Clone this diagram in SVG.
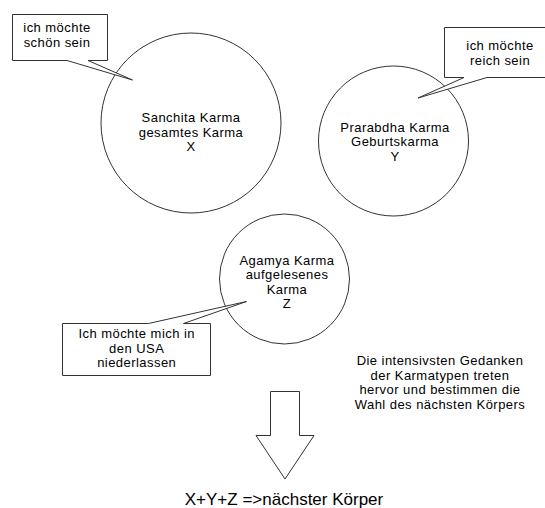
<svg xmlns="http://www.w3.org/2000/svg" width="545" height="508" viewBox="0 0 545 508">
<style>
.shape{fill:#fff;stroke:#333;stroke-width:1}
text{font-family:"Liberation Sans","DejaVu Sans",sans-serif;font-size:13px;letter-spacing:0.45px;fill:#000;text-anchor:middle}
.big{font-size:17px;letter-spacing:0}
</style>
<rect width="545" height="508" fill="#fff"/>
<g id="sanchita">
<circle class="shape" cx="191" cy="123" r="90"/>
<text x="191" y="122">Sanchita Karma</text>
<text x="191" y="136.6">gesamtes Karma</text>
<text x="191" y="151.2">X</text>
</g>
<g id="prarabdha">
<circle class="shape" cx="393.5" cy="141" r="75"/>
<text x="395" y="131.5">Prarabdha Karma</text>
<text x="395" y="146.1">Geburtskarma</text>
<text x="395" y="160.7">Y</text>
</g>
<g id="agamya">
<circle class="shape" cx="284.5" cy="279" r="65"/>
<text x="287" y="264.5">Agamya Karma</text>
<text x="287" y="279.1">aufgelesenes</text>
<text x="287" y="293.7">Karma</text>
<text x="287" y="308.3">Z</text>
</g>
<g id="callout-schoen">
<path class="shape" d="M12.5,14.5 H107.5 V60.5 H88 L132.5,80 L67,60.5 H12.5 Z"/>
<text x="57" y="32.3">ich möchte</text>
<text x="57" y="46.9">schön sein</text>
</g>
<g id="callout-reich">
<path class="shape" d="M444.5,27.5 H547 V77.5 H487 L418,98 L464,77.5 H444.5 Z"/>
<text x="500" y="49.5">ich möchte</text>
<text x="500" y="64.5">reich sein</text>
</g>
<g id="callout-usa">
<path class="shape" d="M62.5,323.5 H148.5 L246.5,301.5 L183.5,323.5 H210.5 V375.5 H62.5 Z"/>
<text x="136.7" y="338">Ich möchte mich in</text>
<text x="136.7" y="352.6">den USA</text>
<text x="136.7" y="367.2">niederlassen</text>
</g>
<g id="note">
<text x="440" y="365">Die intensivsten Gedanken</text>
<text x="440" y="379.6">der Karmatypen treten</text>
<text x="440" y="394.2">hervor und bestimmen die</text>
<text x="440" y="408.8">Wahl des nächsten Körpers</text>
</g>
<g id="connectors">
<path class="shape" d="M270.5,391.5 H299.5 V435.5 H314 L285,479 L256,435.5 H270.5 Z"/>
</g>
<g id="result">
<text class="big" x="284" y="505">X+Y+Z =&gt;nächster Körper</text>
</g>
</svg>
